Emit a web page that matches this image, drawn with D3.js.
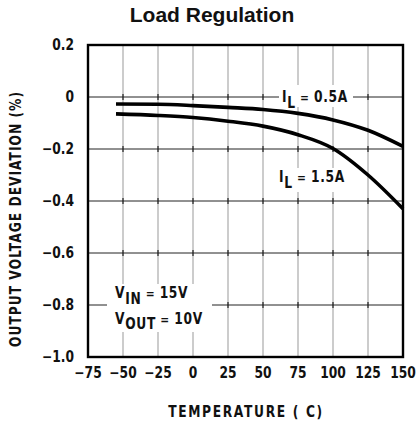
<!DOCTYPE html>
<html>
<head>
<meta charset="utf-8">
<script src="https://cdn.jsdelivr.net/npm/d3@7"></script>
<style>
  body { margin: 0; background: #fff; }
  text { font-family: "DejaVu Sans", Arial, sans-serif; fill: #111; }
</style>
</head>
<body>
<div id="chart"></div>
<script>
// --- Data ---
const xTicks = [-75, -50, -25, 0, 25, 50, 75, 100, 125, 150];
const yTicks = [0.2, 0, -0.2, -0.4, -0.6, -0.8, -1.0];
const yTickLabels = ["0.2", "0", "\u22120.2", "\u22120.4", "\u22120.6", "\u22120.8", "\u22121.0"];

const temps = [-55, -25, 0, 25, 50, 75, 100, 125, 150];
const dev05 = [-0.027, -0.028, -0.033, -0.040, -0.048, -0.063, -0.088, -0.128, -0.19];
const dev15 = [-0.065, -0.071, -0.079, -0.093, -0.112, -0.145, -0.198, -0.300, -0.43];

const W = 419, H = 427;
const SX = 0.82; // horizontal squeeze to mimic the condensed typeface
const svg = d3.select("#chart").append("svg")
    .attr("width", W).attr("height", H);

const x = d3.scaleLinear().domain([-75, 150]).range([88, 403]);
const y = d3.scaleLinear().domain([-1.0, 0.2]).range([357, 45]);

// title
svg.append("text")
    .attr("x", 212).attr("y", 22)
    .attr("text-anchor", "middle")
    .style("font-family", "Arial, 'Liberation Sans', sans-serif")
    .style("font-weight", "bold")
    .style("font-size", "21px")
    .text("Load Regulation");

const plot = svg.append("g");

// vertical grid (grey)
plot.selectAll(".vgrid")
    .data(xTicks.slice(1, -1))
    .enter().append("line")
    .attr("x1", d => x(d)).attr("x2", d => x(d))
    .attr("y1", y(0.2)).attr("y2", y(-1.0))
    .attr("stroke", "#999").attr("stroke-width", 1);

// horizontal grid (dark)
plot.selectAll(".hgrid")
    .data(yTicks.slice(1, -1))
    .enter().append("line")
    .attr("x1", x(-75)).attr("x2", x(150))
    .attr("y1", d => y(d)).attr("y2", d => y(d))
    .attr("stroke", "#222").attr("stroke-width", 1);

// small crosses at intersections
xTicks.slice(1, -1).forEach(tx => {
    yTicks.slice(1, -1).forEach(ty => {
        plot.append("line")
            .attr("x1", x(tx)).attr("x2", x(tx))
            .attr("y1", y(ty) - 3).attr("y2", y(ty) + 3)
            .attr("stroke", "#222").attr("stroke-width", 1.2);
    });
});

// white boxes behind annotations
plot.append("rect").attr("x", 279).attr("y", y(0) - 12).attr("width", 74).attr("height", 22).attr("fill", "#fff");
plot.append("rect").attr("x", 275).attr("y", 168).attr("width", 76).attr("height", 24).attr("fill", "#fff");
plot.append("rect").attr("x", 107).attr("y", 284).attr("width", 105).attr("height", 48).attr("fill", "#fff");

// frame
plot.append("rect")
    .attr("x", x(-75)).attr("y", y(0.2))
    .attr("width", x(150) - x(-75)).attr("height", y(-1.0) - y(0.2))
    .attr("fill", "none").attr("stroke", "#000").attr("stroke-width", 2.4);

// curves
const line = d3.line()
    .x(d => x(d[0])).y(d => y(d[1]))
    .curve(d3.curveMonotoneX);

[dev05, dev15].forEach(series => {
    plot.append("path")
        .datum(temps.map((t, i) => [t, series[i]]))
        .attr("d", line)
        .attr("fill", "none")
        .attr("stroke", "#000")
        .attr("stroke-width", 3.6);
});

// axis tick labels
svg.selectAll(".xlab")
    .data(xTicks)
    .enter().append("text")
    .attr("transform", d => `translate(${x(d)},378) scale(${SX},1)`)
    .attr("text-anchor", "middle")
    .style("font-size", "15px").style("font-weight", "bold")
    .text(d => d < 0 ? "\u2212" + Math.abs(d) : d);

svg.selectAll(".ylab")
    .data(yTicks)
    .enter().append("text")
    .attr("transform", d => `translate(74,${y(d) + 5}) scale(${SX},1)`)
    .attr("text-anchor", "end")
    .style("font-size", "15px").style("font-weight", "bold")
    .text((d, i) => yTickLabels[i]);

// axis titles
svg.append("text")
    .attr("transform", `translate(246,417) scale(${SX},1)`)
    .attr("text-anchor", "middle")
    .style("font-size", "15px").style("font-weight", "bold")
    .style("letter-spacing", "2px")
    .text("TEMPERATURE ( C)");

svg.append("text")
    .attr("transform", `translate(21,219) rotate(-90) scale(${SX},1)`)
    .attr("text-anchor", "middle")
    .style("font-size", "15px").style("font-weight", "bold")
    .style("letter-spacing", "1.2px")
    .text("OUTPUT VOLTAGE DEVIATION (%)");

// annotations with subscripts
function subLabel(g, xPos, yPos, main, sub, rest, drop) {
    const t = g.append("text")
        .attr("transform", `translate(${xPos},${yPos}) scale(${SX},1)`)
        .style("font-size", "15px").style("font-weight", "bold")
        .style("letter-spacing", "0.8px");
    t.append("tspan").text(main);
    t.append("tspan").attr("dy", drop).text(sub);
    t.append("tspan").attr("dy", -drop).style("font-size", "13px").text(" = ");
    t.append("tspan").text(rest);
}

subLabel(plot, 282, 102, "I", "L", "0.5A", 6);
subLabel(plot, 279, 182, "I", "L", "1.5A", 6);
subLabel(plot, 115, 298, "V", "IN", "15V", 6);
subLabel(plot, 115, 324, "V", "OUT", "10V", 5);
</script>
</body>
</html>
